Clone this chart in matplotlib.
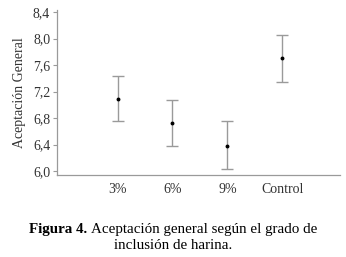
import matplotlib
matplotlib.use("Agg")
import matplotlib.pyplot as plt

# data
groups = ["3%", "6%", "9%", "Control"]
means = [7.09, 6.72, 6.38, 7.71]
lower = [6.75, 6.38, 6.03, 7.35]
upper = [7.44, 7.07, 6.75, 8.06]
yticks = [6.0, 6.4, 6.8, 7.2, 7.6, 8.0, 8.4]

plt.rcParams['font.family'] = ['Liberation Serif', 'DejaVu Serif']
grey = "#9a9a9a"

fig = plt.figure(figsize=(3.46, 2.57), dpi=100)
ax = fig.add_axes([0.165, 0.319, 0.818, 0.642])

pos = [1, 2, 3, 4]
err = [[m - lo for m, lo in zip(means, lower)],
       [up - m for m, up in zip(means, upper)]]
ax.errorbar(pos, means, yerr=err, fmt="none", ecolor=grey, elinewidth=1.0,
            capsize=4.3, capthick=1.0)
ax.plot(pos, means, "o", color="black", markersize=1.8)

ax.set_xlim(-0.1, 5.05)
ax.set_ylim(5.94, 8.43)
ax.set_xticks(pos)
ax.set_xticklabels(groups, fontsize=10, color="#333333")
ax.tick_params(axis="x", length=0, pad=6)
ax.set_yticks(yticks)
ax.set_yticklabels([f"{v:.1f}".replace(".", ",") for v in yticks],
                   fontsize=10, color="#333333")
ax.tick_params(axis="y", length=3, color=grey, pad=2)

for side in ["top", "right"]:
    ax.spines[side].set_visible(False)
for side in ["left", "bottom"]:
    ax.spines[side].set_color(grey)
    ax.spines[side].set_linewidth(0.9)

ax.set_ylabel("Aceptación General", fontsize=10, color="#333333", labelpad=5)

# caption: bold "Figura 4." followed by regular text, centred as one line
cap_size = 10.8
bold_part = "Figura 4. "
rest_part = "Aceptación general según el grado de"
renderer = fig.canvas.get_renderer()
tb = fig.text(0, 0.108, bold_part, fontsize=cap_size, fontweight="bold",
              va="center")
tr = fig.text(0, 0.108, rest_part, fontsize=cap_size, va="center")
wb = tb.get_window_extent(renderer).width / fig.bbox.width
wr = tr.get_window_extent(renderer).width / fig.bbox.width
x0 = 0.5 - (wb + wr) / 2
tb.set_x(x0)
tr.set_x(x0 + wb)
fig.text(0.5, 0.045, "inclusión de harina.", fontsize=cap_size, ha="center",
         va="center", color="black")

fig.savefig("out.png", dpi=100)
